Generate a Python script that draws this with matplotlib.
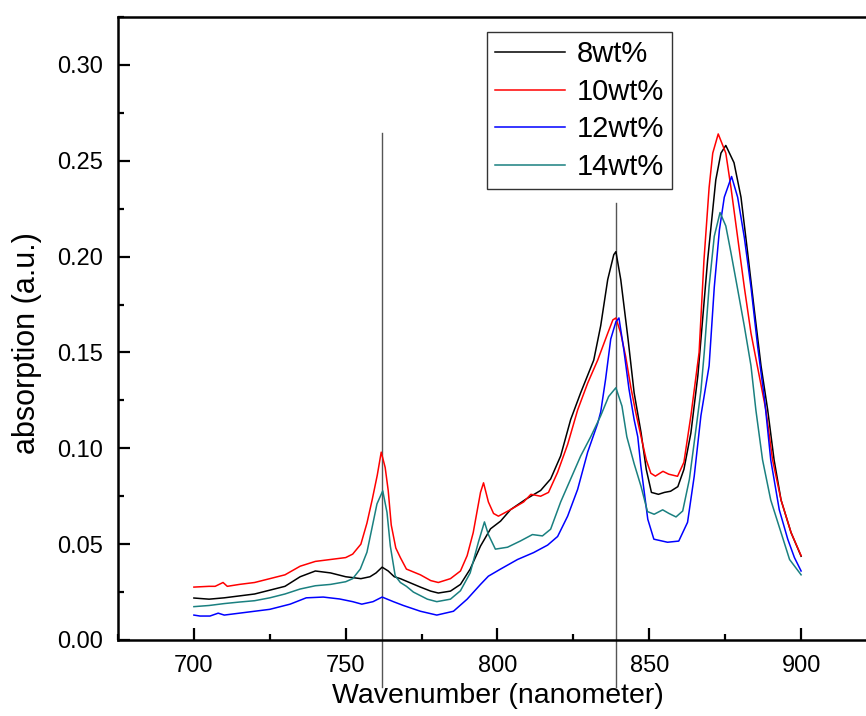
import matplotlib
matplotlib.use("Agg")
import matplotlib.pyplot as plt
from matplotlib.ticker import MultipleLocator

plt.rcParams['font.family'] = ['Liberation Sans', 'DejaVu Sans']

labels = ['8wt%', '10wt%', '12wt%', '14wt%']
colors = ['#000000', '#ff0000', '#0000ff', '#1a8080']

wl_8 = [700, 705, 710, 715, 720, 725, 730, 735, 740, 745, 750, 755, 758, 760, 762, 764, 766, 768, 771,
        774.6, 778, 780.5, 784.5, 787.8, 791, 794.4, 797.7, 801, 804.3, 809.3, 814.2, 817.5, 820.8, 824.1,
        827.4, 831.7, 834, 836.3, 838.3, 839, 840.6, 843, 845, 847.3, 849, 850.7, 853, 855, 857, 859.4,
        861.4, 863.7, 866, 869.2, 871.9, 873.6, 875.2, 877.9, 880.2, 882.4, 884.6, 886.8, 889, 891.1,
        893.4, 896.7, 900]
ab_8 = [0.0219, 0.0213, 0.022, 0.023, 0.024, 0.026, 0.028, 0.033, 0.036, 0.035, 0.033, 0.032, 0.033, 0.035,
        0.038, 0.036, 0.033, 0.032, 0.030, 0.0276, 0.0255, 0.0245, 0.0255, 0.029, 0.037, 0.049, 0.058, 0.062,
        0.068, 0.0734, 0.078, 0.084, 0.096, 0.115, 0.129, 0.146, 0.164, 0.188, 0.201, 0.2026, 0.188, 0.157,
        0.129, 0.108, 0.089, 0.077, 0.076, 0.077, 0.0776, 0.080, 0.089, 0.108, 0.138, 0.198, 0.240, 0.254,
        0.258, 0.249, 0.231, 0.202, 0.172, 0.143, 0.120, 0.094, 0.073, 0.056, 0.0437]

wl_10 = [700, 705, 707, 709.6, 711, 715, 720, 725, 730, 735, 740, 745, 750, 752.3, 755, 757, 758.7, 760.4,
         761.7, 763, 764, 765, 766.5, 768, 770, 774.6, 778, 780.5, 784.5, 787.8, 790, 792, 794.4, 795.4,
         797, 798.7, 800.3, 804.3, 808.6, 811, 814.2, 816.8, 819.8, 823.1, 826.4, 829.7, 833, 836.3, 838,
         839, 840.6, 842.2, 843.9, 845.5, 847.3, 849, 850.5, 852, 854.5, 856.4, 859.3, 861.4, 863.7, 866.4,
         868, 869.7, 870.9, 872.7, 875.2, 876.9, 879.1, 881.3, 883.5, 885.7, 888.4, 890.6, 893.4, 896.7, 900]
ab_10 = [0.0276, 0.028, 0.028, 0.030, 0.028, 0.029, 0.030, 0.032, 0.034, 0.0385, 0.041, 0.042, 0.043,
         0.0448, 0.050, 0.061, 0.073, 0.086, 0.098, 0.090, 0.078, 0.060, 0.048, 0.043, 0.037, 0.034, 0.031,
         0.030, 0.032, 0.036, 0.044, 0.056, 0.077, 0.082, 0.072, 0.066, 0.0646, 0.068, 0.072, 0.076, 0.075,
         0.077, 0.0875, 0.102, 0.120, 0.134, 0.146, 0.160, 0.167, 0.168, 0.160, 0.148, 0.132, 0.119, 0.106,
         0.094, 0.087, 0.0855, 0.088, 0.0865, 0.0854, 0.0927, 0.117, 0.150, 0.198, 0.236, 0.254, 0.264, 0.254,
         0.236, 0.210, 0.184, 0.160, 0.142, 0.120, 0.094, 0.073, 0.056, 0.044]

wl_12 = [700, 702, 705.3, 708, 710, 715, 720, 725, 731.7, 737, 742.6, 748, 752.3, 755.3, 759, 762, 765.7,
         769, 774.6, 780, 785.5, 790, 794.4, 797, 801, 806.6, 811.9, 816.5, 819.8, 823.1, 826.4, 829.7, 833,
         834, 835.6, 837.3, 839, 840, 841.6, 843.3, 845, 846.2, 847.2, 849.5, 851.5, 856, 859.7, 862.6, 864.8,
         867, 869.7, 871.4, 873.1, 874.7, 877.1, 879.1, 881.3, 883.5, 885.7, 888, 890, 892.8, 895.6, 897.8, 900]
ab_12 = [0.013, 0.0125, 0.0125, 0.014, 0.013, 0.014, 0.015, 0.016, 0.0187, 0.022, 0.0224, 0.0214, 0.020,
         0.0187, 0.020, 0.0224, 0.020, 0.018, 0.015, 0.013, 0.015, 0.0213, 0.029, 0.0333, 0.037, 0.042, 0.0456,
         0.0495, 0.054, 0.0646, 0.0786, 0.098, 0.113, 0.119, 0.136, 0.157, 0.166, 0.168, 0.1515, 0.131, 0.115,
         0.106, 0.091, 0.063, 0.0526, 0.051, 0.0516, 0.0614, 0.0855, 0.117, 0.143, 0.184, 0.214, 0.231, 0.2418,
         0.231, 0.210, 0.184, 0.153, 0.125, 0.094, 0.068, 0.0526, 0.043, 0.036]

wl_14 = [700, 705, 710, 715, 720, 725, 730, 735, 740, 745, 750, 752.3, 754.8, 757, 758.6, 760.3, 762.2,
         763.6, 764.7, 766.3, 768, 770, 772.3, 776.9, 780, 784.5, 787.8, 791, 793.7, 795.7, 797, 799.3, 803.3,
         807.6, 811.5, 814.8, 817.5, 820.8, 824.1, 827.4, 830.7, 834, 836.6, 839, 841, 842.6, 845, 847.3,
         849.4, 851.6, 854.4, 856.5, 858.8, 861, 863.2, 865.5, 867, 868.1, 869.7, 871.4, 873.3, 875.2, 876.9,
         879.1, 881.3, 883.5, 885.1, 887.3, 890, 893.4, 896.2, 900]
ab_14 = [0.0174, 0.018, 0.019, 0.0198, 0.0205, 0.022, 0.024, 0.0266, 0.0283, 0.029, 0.0304, 0.032, 0.037,
         0.0458, 0.058, 0.071, 0.0778, 0.0666, 0.049, 0.0335, 0.030, 0.028, 0.025, 0.0213, 0.020, 0.0213,
         0.0257, 0.035, 0.051, 0.0616, 0.055, 0.0474, 0.0484, 0.0517, 0.055, 0.0543, 0.0578, 0.072, 0.084,
         0.096, 0.106, 0.117, 0.127, 0.1316, 0.122, 0.106, 0.092, 0.080, 0.067, 0.0656, 0.0679, 0.066, 0.0642,
         0.0673, 0.0838, 0.1116, 0.130, 0.150, 0.1845, 0.2106, 0.223, 0.216, 0.202, 0.183, 0.1637, 0.143,
         0.120, 0.094, 0.073, 0.056, 0.042, 0.034]

marker_wl = [762, 839]
marker_top = [0.2646, 0.228]
marker_bottom = -0.0245

xticks = [700, 750, 800, 850, 900]
yticks = [0.00, 0.05, 0.10, 0.15, 0.20, 0.25, 0.30]

fig = plt.figure(figsize=(8.66, 7.16), dpi=100)
ax = fig.add_axes([118 / 866, 76 / 716, (877 - 118) / 866, (640 - 17) / 716])

series = [(wl_8, ab_8), (wl_10, ab_10), (wl_12, ab_12), (wl_14, ab_14)]
for (w, a), lab, c in zip(series, labels, colors):
    ax.plot(w, a, color=c, lw=1.1, label=lab)

for xm, yt in zip(marker_wl, marker_top):
    ax.plot([xm, xm], [marker_bottom, yt], color='#555555', lw=1.0, clip_on=False, zorder=1)

ax.set_xlim(675, 925)
ax.set_ylim(0, 0.325)
ax.set_xticks(xticks)
ax.set_yticks(yticks)
ax.set_yticklabels([f'{v:.2f}' for v in yticks])
ax.xaxis.set_minor_locator(MultipleLocator(25))
ax.yaxis.set_minor_locator(MultipleLocator(0.025))
ax.tick_params(which='major', direction='in', length=8.6, width=1.6, labelsize=17, pad=11)
ax.tick_params(which='minor', direction='in', length=4.3, width=1.6)
for s in ax.spines.values():
    s.set_linewidth(1.8)

ax.set_xlabel('Wavenumber (nanometer)', fontsize=20.5, labelpad=4)
ax.set_ylabel('absorption (a.u.)', fontsize=22)
ax.yaxis.set_label_coords((42 - 118) / 759, (640 - 343) / 623)

leg = ax.legend(loc='upper left', bbox_to_anchor=(487 / 866, 1 - 32 / 716),
                bbox_transform=fig.transFigure, fontsize=21, frameon=True, fancybox=False,
                edgecolor='black', handlelength=2.4, handletextpad=0.4, labelspacing=0.33,
                borderpad=0.28, borderaxespad=0)
leg.get_frame().set_linewidth(1.0)

fig.savefig('out.png', dpi=100)
